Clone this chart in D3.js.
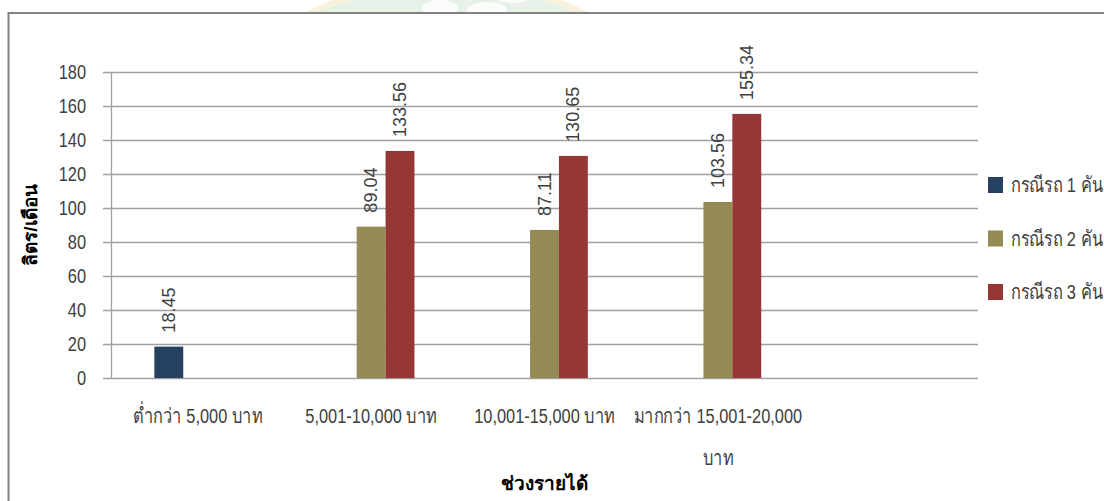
<!DOCTYPE html>
<html>
<head>
<meta charset="utf-8">
<script src="https://cdn.jsdelivr.net/npm/d3@7"></script>
<style>
  html, body { margin: 0; padding: 0; background: #fff; }
  svg { display: block; }
  .lbl { font-family: "Liberation Sans", "Noto Sans", sans-serif; }
</style>
</head>
<body>
<svg id="chart" width="1104" height="501"></svg>
<script>
// Monthly fuel use (litres) by income band and number of cars
const categories = ["ต่ำกว่า 5,000 บาท", "5,001-10,000 บาท", "10,001-15,000 บาท", "มากกว่า 15,001-20,000|บาท", ""];
const seriesNames = ["กรณีรถ 1 คัน", "กรณีรถ 2 คัน", "กรณีรถ 3 คัน"];
const car1 = [18.45, null, null, null, null];
const car2 = [null, 89.04, 87.11, 103.56, null];
const car3 = [null, 133.56, 130.65, 155.34, null];
const seriesColors = ["#254061", "#948A54", "#953735"];
const yTicks = [0, 20, 40, 60, 80, 100, 120, 140, 160, 180];
const yTitle = "ลิตร/เดือน";
const xTitle = "ช่วงรายได้";

const series = [car1, car2, car3];
const svg = d3.select("#chart");
const NARROW = 0.78; // horizontal squeeze for the condensed label face

// faint seal behind the chart frame
const wm = svg.append("g");
wm.append("ellipse").attr("cx", 447).attr("cy", 60).attr("rx", 175).attr("ry", 75)
  .attr("fill", "#e8f1e8").attr("stroke", "#f8f2dc").attr("stroke-width", 6);
wm.append("ellipse").attr("cx", 440).attr("cy", 8).attr("rx", 18).attr("ry", 8).attr("fill", "#fbfdfb");
wm.append("ellipse").attr("cx", 487).attr("cy", 10).attr("rx", 20).attr("ry", 8).attr("fill", "#fbfdfb");
wm.append("ellipse").attr("cx", 512).attr("cy", 0).attr("rx", 14).attr("ry", 3).attr("fill", "#fbfdfb");

// chart frame
svg.append("rect").attr("x", 8.5).attr("y", 13).attr("width", 1200).attr("height", 600)
  .attr("fill", "#fff").attr("stroke", "#828282").attr("stroke-width", 2);

const plot = { left: 111, right: 978, top: 72, bottom: 378 };

const x = d3.scaleBand().domain(d3.range(categories.length))
  .range([plot.left, plot.right]).paddingInner(0).paddingOuter(0);
const groupW = x.bandwidth() * 0.5;
const xs = d3.scaleBand().domain(d3.range(series.length)).range([0, groupW]);
const y = d3.scaleLinear().domain([0, 180]).range([plot.bottom, plot.top]);

// gridlines
svg.append("g").selectAll("line").data(yTicks).join("line")
  .attr("x1", plot.left - 8).attr("x2", plot.right)
  .attr("y1", d => Math.round(y(d)) + 0.5).attr("y2", d => Math.round(y(d)) + 0.5)
  .attr("stroke", "#a0a0a0").attr("stroke-width", 1.3);

// y axis line
svg.append("line").attr("x1", plot.left + 0.5).attr("x2", plot.left + 0.5)
  .attr("y1", plot.top).attr("y2", plot.bottom)
  .attr("stroke", "#a0a0a0").attr("stroke-width", 1.3);

// y tick labels
svg.append("g").selectAll("text").data(yTicks).join("text")
  .attr("class", "lbl")
  .attr("transform", d => `translate(86,${y(d) + 7}) scale(${NARROW},1)`)
  .attr("text-anchor", "end").attr("font-size", 21).attr("fill", "#404040")
  .text(d => d);

// bars
const groups = svg.append("g").selectAll("g").data(series).join("g")
  .attr("fill", (d, i) => seriesColors[i]);
groups.each(function (vals, si) {
  const g = d3.select(this);
  const pts = vals.map((v, ci) => ({ v, ci })).filter(p => p.v != null);
  g.selectAll("rect").data(pts).join("rect")
    .attr("x", p => x(p.ci) + (x.bandwidth() - groupW) / 2 + xs(si))
    .attr("width", xs.bandwidth())
    .attr("y", p => y(p.v))
    .attr("height", p => y(0) - y(p.v));
  g.selectAll("text").data(pts).join("text")
    .attr("font-family", "Liberation Sans, sans-serif")
    .attr("font-size", 18).attr("fill", "#404040")
    .attr("transform", p => {
      const cx = x(p.ci) + (x.bandwidth() - groupW) / 2 + xs(si) + xs.bandwidth() / 2 + 6;
      return `translate(${cx},${y(p.v) - 14}) rotate(-90)`;
    })
    .text(p => p.v.toFixed(2));
});

// category labels (| marks a line break)
const cat = svg.append("g").selectAll("text").data(categories).join("text")
  .attr("class", "lbl").attr("font-size", 21).attr("fill", "#404040")
  .attr("text-anchor", "middle")
  .attr("transform", (d, i) => `translate(${x(i) + x.bandwidth() / 2},423) scale(${NARROW},1)`);
cat.each(function (d) {
  const t = d3.select(this);
  d.split("|").forEach((line, k) => {
    t.append("tspan").attr("x", 0).attr("dy", k === 0 ? 0 : 42).text(line);
  });
});

// axis titles
svg.append("text").attr("font-family", "Liberation Sans, sans-serif").attr("font-weight", "bold")
  .attr("font-size", 19).attr("fill", "#000").attr("text-anchor", "middle")
  .attr("transform", `translate(37,${(plot.top + plot.bottom) / 2}) rotate(-90)`)
  .text(yTitle);
svg.append("text").attr("font-family", "Liberation Sans, sans-serif").attr("font-weight", "bold")
  .attr("font-size", 19).attr("fill", "#000").attr("text-anchor", "middle")
  .attr("x", (plot.left + plot.right) / 2).attr("y", 490)
  .text(xTitle);

// legend
const leg = svg.append("g").selectAll("g").data(seriesNames).join("g")
  .attr("transform", (d, i) => `translate(988,${185 + i * 53.5})`);
leg.append("rect").attr("x", 0).attr("y", -8).attr("width", 15).attr("height", 16)
  .attr("fill", (d, i) => seriesColors[i]);
leg.append("text").attr("class", "lbl")
  .attr("transform", `translate(23,7) scale(${NARROW},1)`)
  .attr("font-size", 21).attr("fill", "#404040").text(d => d);
</script>
</body>
</html>
